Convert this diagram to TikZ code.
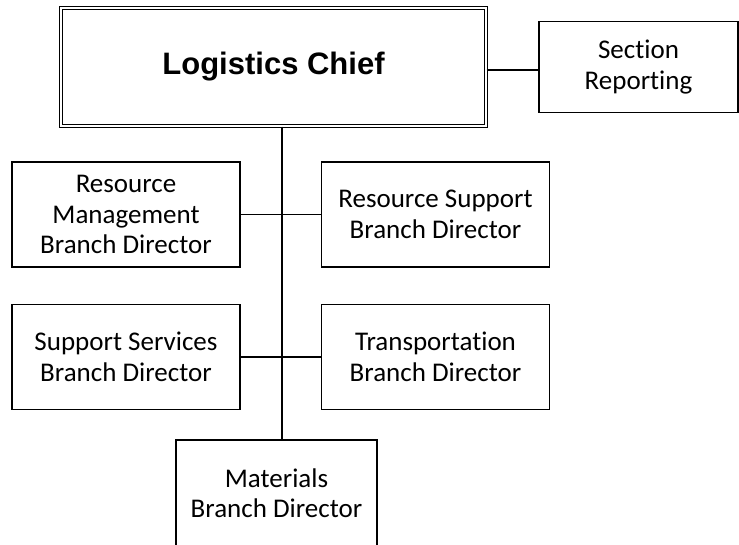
\documentclass[tikz,border=0pt]{standalone}
\usepackage{fontspec}
\setmainfont{Carlito}[Ligatures=NoCommon]
\newfontfamily\arialfont{Liberation Sans}

\begin{document}
\begin{tikzpicture}[x=1pt, y=-1pt]
  \tikzstyle{box} = [draw=black, line width=1.6pt, inner sep=0pt, align=center,
                     font=\fontsize{27}{30.5}\selectfont]
  \tikzstyle{branch} = [box, minimum width=228pt, minimum height=105pt]
  \tikzstyle{chief box} = [box, line width=1pt, double=white, double distance=1.6pt,
                           minimum width=425pt, minimum height=118pt,
                           font=\arialfont\bfseries\fontsize{31}{36}\selectfont]
  \tikzstyle{link} = [line width=1.6pt]

  \useasboundingbox (0,0) rectangle (739,544);

  % Top row: chief and reporting
  \node[chief box] (chief) at (273.5,67) {Logistics Chief};
  \node[box, minimum width=199pt, minimum height=91pt] (report) at (638.5,67) {Section\\Reporting};

  % Branch directors, two per row
  \node[branch] (resmgmt) at (126,214.5) {Resource\\Management\\Branch Director};
  \node[branch] (ressup) at (435.5,214.5) {Resource Support\\Branch Director};
  \node[branch] (supserv) at (126,357) {Support Services\\Branch Director};
  \node[branch] (transp) at (435.5,357) {Transportation\\Branch Director};

  % Bottom box runs off the page
  \node[branch, minimum width=201pt, minimum height=106pt] (materials) at (276.5,493) {Materials\\Branch Director};

  % Connectors
  \coordinate (spine) at (282,0);
  \coordinate (side) at (0,70);
  \draw[link] (chief.east |- side) -- (report.west |- side);
  \draw[link] (chief.south -| spine) -- (materials.north -| spine);
  \draw[link] (resmgmt.east) -- (ressup.west);
  \draw[link] (supserv.east) -- (transp.west);

\end{tikzpicture}
\end{document}
